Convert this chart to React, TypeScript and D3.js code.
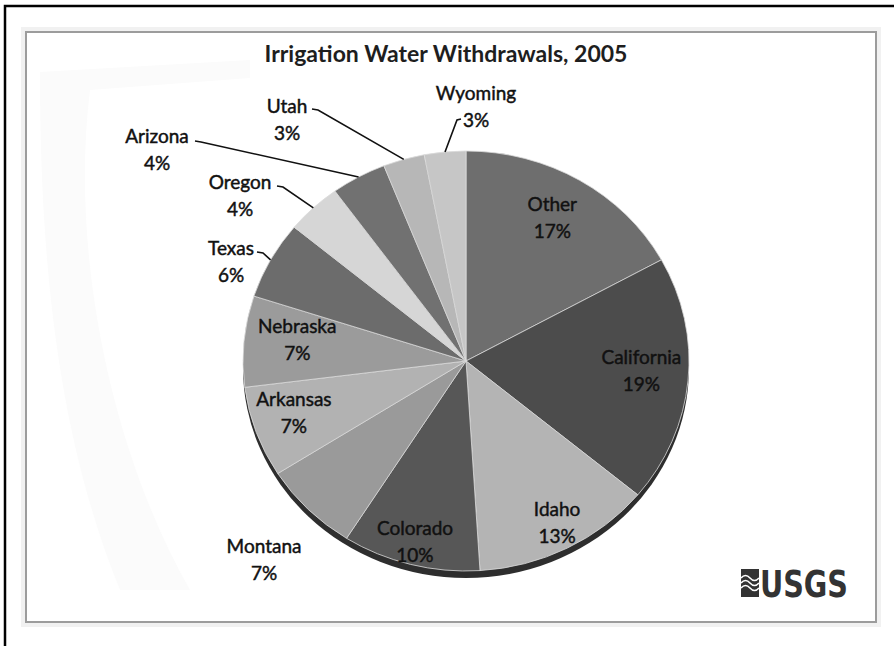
import React from "react";
import * as d3 from "d3";

// share of irrigation withdrawals, 2005 (clockwise from 12 o'clock)
const states = ["Other", "California", "Idaho", "Colorado", "Montana", "Arkansas", "Nebraska", "Texas", "Oregon", "Arizona", "Utah", "Wyoming"];
const shares = [17, 19, 13, 10, 7, 7, 7, 6, 4, 4, 3, 3];

const shades = ["#6e6e6e", "#4c4c4c", "#b4b4b4", "#575757", "#9a9a9a", "#b2b2b2", "#9b9b9b", "#6c6c6c", "#d6d6d6", "#717171", "#b7b7b7", "#c6c6c6"];

const W = 894;
const H = 646;
const cx = 466;
const cy = 361;
const rx = 223;
const ry = 210;
const k = ry / rx;

// labels that sit on their slice, as a fraction of the radius
const insideR: Record<string, number> = {
  Other: 0.76, California: 0.79, Idaho: 0.9, Colorado: 0.92, Arkansas: 0.82, Nebraska: 0.76,
};

// labels dragged off the pie; lx/ly = where the leader starts, hook = little tick
const outside: Record<string, { x: number; y: number; lx?: number; ly?: number; hook?: number }> = {
  Montana: { x: 264, y: 566 },
  Texas: { x: 231, y: 268, lx: 257, ly: 252, hook: 6 },
  Oregon: { x: 240, y: 202, lx: 277, ly: 186, hook: 6 },
  Arizona: { x: 157, y: 156, lx: 195, ly: 141, hook: 6 },
  Utah: { x: 287, y: 126, lx: 312, ly: 109, hook: 6 },
  Wyoming: { x: 476, y: 113, lx: 461, ly: 119, hook: -4 },
};

const font = "Lato, 'Open Sans', sans-serif";

export default function App() {
  const pie = d3.pie<number>().sort(null).startAngle(0).endAngle(2 * Math.PI);
  const arcs = pie(shares);
  const arc = d3.arc<d3.PieArcDatum<number>>().innerRadius(0).outerRadius(rx);

  const onEllipse = (a: number, f: number) => [cx + f * rx * Math.sin(a), cy - f * ry * Math.cos(a)];

  return (
    <svg width={W} height={H} style={{ position: "absolute", left: 0, top: 0, background: "#fff" }}>
      {/* frame */}
      <rect x={5} y={6} width={W + 10} height={H + 10} fill="#fff" stroke="#000" strokeWidth={2.5} />
      <rect x={21} y={27} width={860} height={600} fill="#f1f1f1" />
      <rect x={26} y={32} width={850} height={590} fill="#fff" stroke="#9c9c9c" strokeWidth={2} />
      <path d="M 40 72 L 250 60 L 250 78 L 90 90 C 70 250 110 450 190 590 L 120 590 C 55 430 40 250 40 72 Z" fill="#fbfbfb" />

      <text x={446} y={62} textAnchor="middle" fontFamily={font} fontWeight={700} fontSize={23} fill="#1e1e1e">
        Irrigation Water Withdrawals, 2005
      </text>

      {/* depth rim */}
      <ellipse cx={cx} cy={cy + 7} rx={rx} ry={ry} fill="#2e2e2e" />
      <g transform={`translate(${cx},${cy}) scale(1,${k})`}>
        {arcs.map((d, i) => (
          <path key={states[i]} d={arc(d) || ""} fill={shades[i]} stroke="#dcdcdc" strokeWidth={0.8} vectorEffect="non-scaling-stroke" />
        ))}
      </g>

      {arcs.map((d, i) => {
        const name = states[i];
        const mid = (d.startAngle + d.endAngle) / 2;
        let x: number, y: number;
        let leader: string | null = null;
        if (insideR[name] !== undefined) {
          [x, y] = onEllipse(mid, insideR[name]);
        } else {
          const o = outside[name];
          x = o.x;
          y = o.y;
          if (o.lx !== undefined) {
            const [ex, ey] = onEllipse(mid, 1);
            leader = `M${o.lx},${o.ly} L${o.lx! + o.hook!},${o.ly! + 1} L${ex},${ey}`;
          }
        }
        return (
          <g key={"lab" + name}>
            {leader && <path d={leader} fill="none" stroke="#111" strokeWidth={1.6} />}
            <text x={x} textAnchor="middle" fontFamily={font} fontSize={19} fill="#111" stroke="#111" strokeWidth={0.45}>
              <tspan x={x} y={y - 13}>{name}</tspan>
              <tspan x={x} y={y + 14}>{shares[i] + "%"}</tspan>
            </text>
          </g>
        );
      })}

      {/* USGS mark */}
      <g>
        <rect x={741} y={569} width={18} height={28} fill="#333" />
        {[0, 1, 2].map((j) => (
          <path key={j} d={`M741,${578 + j * 5} q4.5,-5 9,0 t9,0`} fill="none" stroke="#fff" strokeWidth={1.6} />
        ))}
        <text x={760} y={597} fontFamily="'Liberation Sans Narrow', 'DejaVu Sans Condensed', sans-serif" fontWeight={700} fontSize={38} fill="#333" textLength={88} lengthAdjust="spacingAndGlyphs">
          USGS
        </text>
      </g>
    </svg>
  );
}
